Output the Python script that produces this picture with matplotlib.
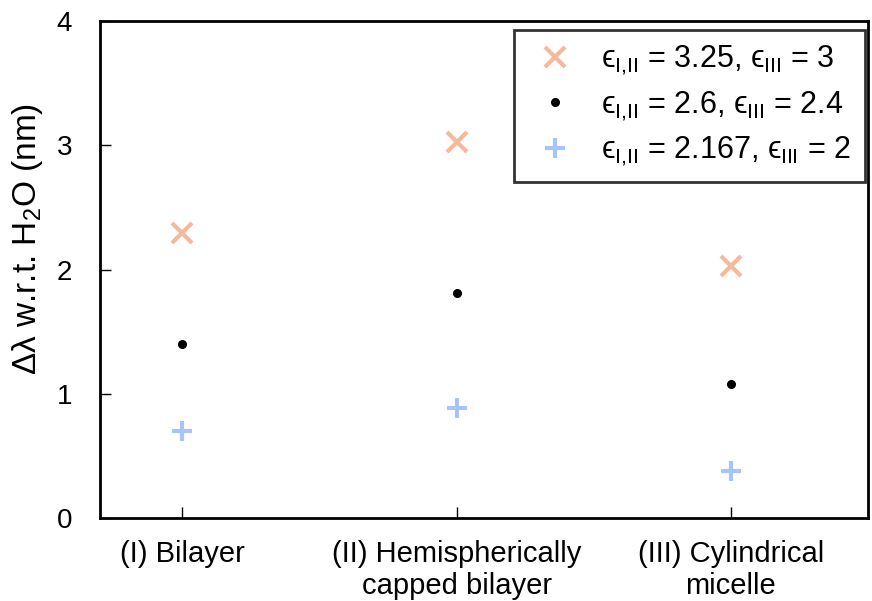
import numpy as np
import matplotlib
matplotlib.use("Agg")
import matplotlib.pyplot as plt

plt.rcParams['font.family'] = ['Liberation Sans', 'DejaVu Sans']
plt.rcParams['mathtext.fontset'] = 'custom'
plt.rcParams['mathtext.rm'] = 'Liberation Sans'
plt.rcParams['mathtext.it'] = 'Liberation Sans:italic'

# data
categories = ['(I) Bilayer', '(II) Hemispherically\ncapped bilayer', '(III) Cylindrical\nmicelle']
high_eps = [2.29, 3.03, 2.03]
mid_eps = [1.40, 1.81, 1.08]
low_eps = [0.70, 0.885, 0.38]
labels = ['\u03f5$_{\\mathrm{I{,}II}}$ = 3.25, \u03f5$_{\\mathrm{III}}$ = 3',
          '\u03f5$_{\\mathrm{I{,}II}}$ = 2.6, \u03f5$_{\\mathrm{III}}$ = 2.4',
          '\u03f5$_{\\mathrm{I{,}II}}$ = 2.167, \u03f5$_{\\mathrm{III}}$ = 2']

x = np.arange(1, len(categories) + 1)

fig = plt.figure(figsize=(8.72, 6.01), dpi=100)
ax = fig.add_axes([100/872, 1 - 518/601, 768/872, 497/601])

ax.plot(x, high_eps, 'x', color='#f5b99b', ms=14, mew=3, label=labels[0])
ax.plot(x, mid_eps, 'o', color='black', ms=5.5, label=labels[1])
ax.plot(x, low_eps, '+', color='#a8c3f5', ms=15, mew=3, label=labels[2])

ax.set_xlim(0.7, 3.5)
ax.set_ylim(0, 4)
ax.set_xticks(x)
ax.set_xticklabels(categories, fontsize=21, linespacing=1.15)
ax.set_yticks([0, 1, 2, 3, 4])
ax.tick_params(axis='both', direction='in', length=8, width=1, labelsize=20)
ax.tick_params(axis='x', labelsize=21, pad=16)
ax.tick_params(axis='y', pad=20)
for s in ax.spines.values():
    s.set_linewidth(2)
ax.set_ylabel('\u0394\u03bb w.r.t. H$_2$O (nm)', fontsize=24)
ax.yaxis.set_label_coords(-0.072, 0.561)

leg = ax.legend(loc='upper right', fontsize=22, frameon=True, fancybox=False,
                edgecolor='black', borderpad=0.45, handletextpad=0.6,
                handlelength=1.8, labelspacing=0.4, borderaxespad=0,
                bbox_to_anchor=(0.996, 0.982))
leg.get_frame().set_linewidth(2)

fig.savefig('out.png', dpi=100)
